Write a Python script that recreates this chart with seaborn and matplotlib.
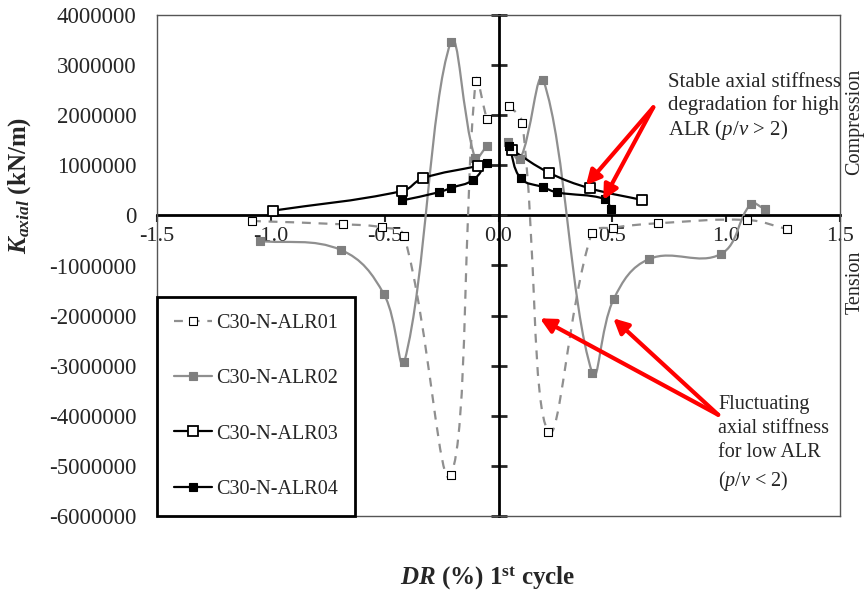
import numpy as np
import matplotlib
matplotlib.use("Agg")
import matplotlib.pyplot as plt
from matplotlib.path import Path
from matplotlib.patches import PathPatch
from matplotlib.lines import Line2D
import seaborn as sns

# drift ratio DR (%) and axial stiffness K (kN/m), 1st cycle
# None splits the negative and positive branches of a specimen
alr01_dr = [-1.083, -0.684, -0.513, -0.414, -0.21, -0.10, -0.052, None,
            0.048, 0.105, 0.219, 0.409, 0.504, 0.699, 1.093, 1.266]
alr01_k = [-112000, -178000, -238000, -411000, -5190000, 2690000, 1925000, None,
           2190000, 1840000, -4320000, -358000, -245000, -158000, -92000, -271000]

alr02_dr = [-1.047, -0.692, -0.503, -0.414, -0.21, -0.103, -0.052, None,
            0.04, 0.094, 0.197, 0.412, 0.506, 0.662, 0.977, 1.109, 1.169]
alr02_k = [-511000, -690000, -1575000, -2930000, 3455000, 1145000, 1380000, None,
           1460000, 1120000, 2700000, -3150000, -1670000, -870000, -770000, 228000, 128000]

alr03_dr = [-0.992, -0.422, -0.333, -0.091, None, 0.061, 0.222, 0.402, 0.632]
alr03_k = [94000, 487000, 740000, 986000, None, 1300000, 852000, 540000, 307000]

alr04_dr = [-0.422, -0.263, -0.21, -0.111, -0.052, None,
            0.048, 0.097, 0.197, 0.256, 0.468, 0.494]
alr04_k = [301000, 461000, 547000, 707000, 1052000, None,
           1385000, 740000, 561000, 461000, 327000, 122000]

series_names = ["C30-N-ALR01", "C30-N-ALR02", "C30-N-ALR03", "C30-N-ALR04"]
x_ticks = [-1.5, -1.0, -0.5, 0.0, 0.5, 1.0, 1.5]
y_ticks = [-6000000, -5000000, -4000000, -3000000, -2000000, -1000000,
           0, 1000000, 2000000, 3000000, 4000000]

sns.set_style("white")
plt.rcParams["font.family"] = ["Liberation Serif", "DejaVu Serif"]
plt.rcParams["mathtext.fontset"] = "custom"
plt.rcParams["mathtext.rm"] = "Liberation Serif"
plt.rcParams["mathtext.it"] = "Liberation Serif:italic"
plt.rcParams["mathtext.bf"] = "Liberation Serif:bold"
plt.rcParams["mathtext.bfit"] = "Liberation Serif:italic:bold"

GRAY = "#8f8f8f"
styles = [
    dict(color=GRAY, ls=(0, (4, 3.5)), lw=1.6, face="white", edge="black", s=26, mew=0.8),
    dict(color=GRAY, ls="-", lw=1.6, face="#7f7f7f", edge="#7f7f7f", s=26, mew=0.8),
    dict(color="black", ls="-", lw=1.6, face="white", edge="black", s=44, mew=1.3),
    dict(color="black", ls="-", lw=1.6, face="black", edge="black", s=28, mew=0.8),
]


def segments(xs, ys):
    x = np.array([np.nan if v is None else v for v in xs], float)
    y = np.array([np.nan if v is None else v for v in ys], float)
    cut = np.where(np.isnan(x))[0]
    out, start = [], 0
    for c in list(cut) + [len(x)]:
        out.append((x[start:c], y[start:c]))
        start = c + 1
    return out


def smooth_path(ax, x, y, f=0.4):
    # smoothed line like a spreadsheet chart: bezier through every point,
    # tangents weighted by the on-screen length of the neighbouring segments
    q = ax.transData.transform(np.column_stack([x, y]))
    n = len(q)
    d = np.hypot(*np.diff(q, axis=0).T)
    verts, codes = [q[0]], [Path.MOVETO]
    for i in range(n - 1):
        if i > 0:
            c1 = q[i] + (q[i + 1] - q[i - 1]) * d[i] / (d[i - 1] + d[i]) * f
        else:
            c1 = q[i] + (q[i + 1] - q[i]) / 3
        if i + 2 < n:
            c2 = q[i + 1] - (q[i + 2] - q[i]) * d[i] / (d[i] + d[i + 1]) * f
        else:
            c2 = q[i + 1] - (q[i + 1] - q[i]) / 3
        verts += [c1, c2, q[i + 1]]
        codes += [Path.CURVE4] * 3
    verts = ax.transData.inverted().transform(np.array(verts))
    return Path(verts, codes)


fig = plt.figure(figsize=(8.66, 5.92), dpi=100)
ax = fig.add_axes([157 / 866, 1 - 516 / 592, 683 / 866, 501 / 592])
ax.set_xlim(-1.5, 1.5)
ax.set_ylim(-6000000, 4000000)

all_data = [(alr01_dr, alr01_k), (alr02_dr, alr02_k), (alr03_dr, alr03_k), (alr04_dr, alr04_k)]
for (xs, ys), st in zip(all_data, styles):
    for x, y in segments(xs, ys):
        ax.add_patch(PathPatch(smooth_path(ax, x, y), fill=False, edgecolor=st["color"],
                               lw=st["lw"], ls=st["ls"], zorder=3))
        sns.scatterplot(x=x, y=y, marker="s", s=st["s"], color=st["face"],
                        edgecolor=st["edge"], linewidth=st["mew"], ax=ax, zorder=4)

ax.set_xlim(-1.5, 1.5)
ax.set_ylim(-6000000, 4000000)
ax.set_xticks([])
ax.set_yticks(y_ticks)
ax.set_yticklabels([str(v) for v in y_ticks])
ax.tick_params(axis="y", length=0, pad=15, labelsize=16.5)
for sp in ax.spines.values():
    sp.set_color("#555555")
    sp.set_linewidth(1)

# zero axes with crossing ticks
sx = ax.secondary_xaxis(0.6)
sx.set_alignment("bottom")
sx.set_xticks(x_ticks)
sx.set_xticklabels([f"{t:.1f}" for t in x_ticks])
sx.tick_params(direction="out", length=5, width=1.5, labelsize=16, pad=3)
for sp in sx.spines.values():
    sp.set_visible(False)
sx.spines["bottom"].set_visible(True)
sx.spines["bottom"].set_linewidth(2)
sx.spines["bottom"].set_color("black")

sy = ax.secondary_yaxis(0.5)
sy.set_yticks(y_ticks)
sy.tick_params(direction="inout", length=12, width=2, labelleft=False, labelright=False)
for sp in sy.spines.values():
    sp.set_visible(False)
sy.spines["right"].set_visible(True)
sy.spines["right"].set_linewidth(2)
sy.spines["right"].set_color("black")

handles = [Line2D([], [], color=st["color"], ls=st["ls"], lw=st["lw"], marker="s",
                  markersize=np.sqrt(st["s"]), markerfacecolor=st["face"],
                  markeredgecolor=st["edge"], markeredgewidth=st["mew"])
           for st in styles]
leg = ax.legend(handles, series_names, loc="lower left", bbox_to_anchor=(0, 0),
                borderaxespad=0, fontsize=14.5, labelspacing=1.8, borderpad=0.85,
                handlelength=1.9, handletextpad=0.2, fancybox=False, framealpha=1)
leg.get_frame().set_edgecolor("black")
leg.get_frame().set_linewidth(2)
leg.set_zorder(10)

# annotations
arrow = dict(arrowstyle="-|>", color="red", lw=3, mutation_scale=22, shrinkA=0, shrinkB=0)
for head in [(0.384, 600000), (0.46, 307000)]:
    ax.annotate("", xy=head, xytext=(0.68, 2158000), arrowprops=arrow, zorder=6)
for head in [(0.182, -2054000), (0.504, -2054000)]:
    ax.annotate("", xy=head, xytext=(0.965, -3980000), arrowprops=arrow, zorder=6)

ax.text(0.746, 2840000, "Stable axial stiffness\ndegradation for high\nALR ($p$/$v$ > 2)",
        fontsize=15, va="top", ha="left", linespacing=1.2, zorder=7)
ax.text(0.965, -3580000, "Fluctuating\naxial stiffness\nfor low ALR\n($p$/$v$ < 2)",
        fontsize=14.5, va="top", ha="left", linespacing=1.38, zorder=7)

fig.text(20 / 866, 1 - 185 / 592, r"$\mathbfit{K}_{\mathbfit{axial}}$ (kN/m)",
         rotation=90, ha="center", va="center", fontsize=18, fontweight="bold")
fig.text(488 / 866, 1 - 578 / 592, r"$\mathbfit{DR}$ (%) 1$^{\mathbf{st}}$ cycle",
         ha="center", va="center", fontsize=18, fontweight="bold")
fig.text(855 / 866, 1 - 122 / 592, "Compression", rotation=90, ha="center",
         va="center", fontsize=14.5)
fig.text(855 / 866, 1 - 282 / 592, "Tension", rotation=90, ha="center",
         va="center", fontsize=14.5)

fig.savefig("out.png", dpi=100)
